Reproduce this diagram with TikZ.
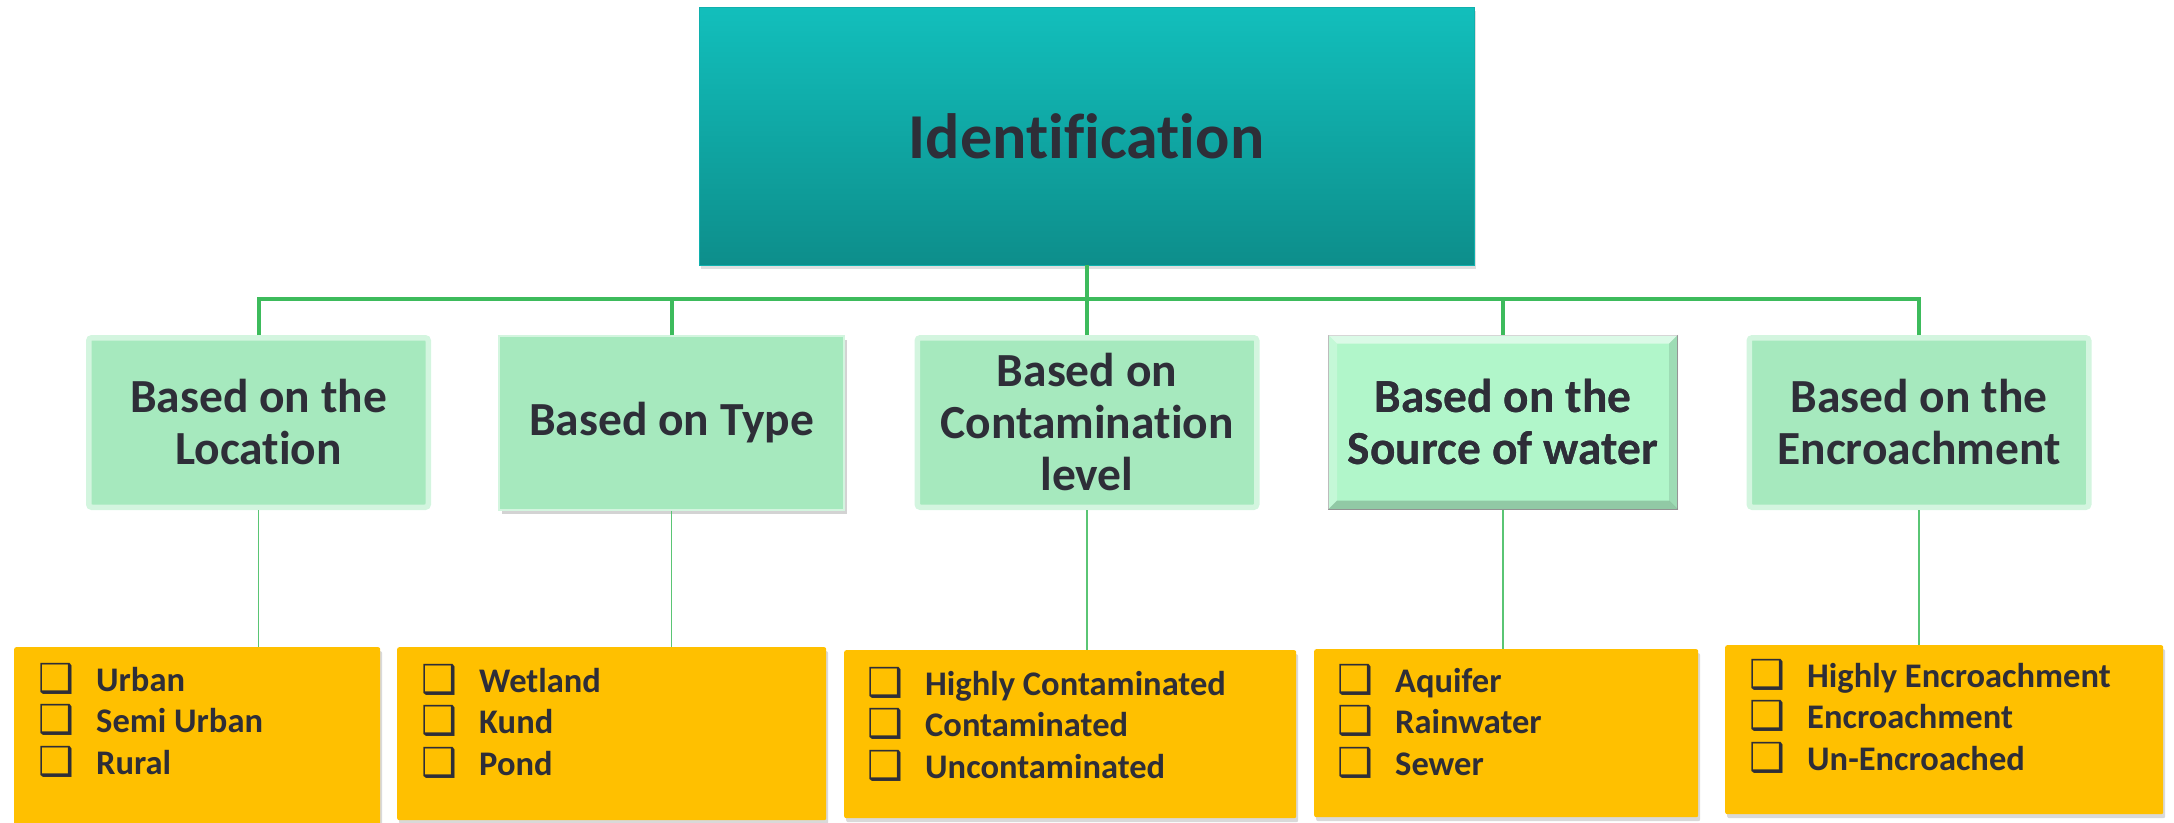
\documentclass[tikz,border=0pt]{standalone}
\usepackage{fontspec}
\setmainfont{Carlito}[Ligatures=NoCommon]
\newfontfamily\dejavu{DejaVu Sans}
\usetikzlibrary{shadows,calc}

\definecolor{tealtop}{HTML}{12BFBC}
\definecolor{tealbot}{HTML}{0D8E8B}
\definecolor{catfill}{HTML}{A6E9BE}
\definecolor{catglow}{HTML}{D3F5DF}
\definecolor{srcfill}{HTML}{B1F6CA}
\definecolor{listfill}{HTML}{FFC000}
\definecolor{ink}{HTML}{2E2E38}
\definecolor{wire}{HTML}{3DBB5C}

% check-box bullet followed by the item text
\newcommand{\chkitem}[1]{\makebox[58pt][l]{\raisebox{-1pt}{\dejavu\fontsize{40}{40}\selectfont ❑}}#1}

\tikzset{
  rootbox/.style={rectangle, minimum width=775pt, minimum height=258pt, inner sep=0pt,
    top color=tealtop, bottom color=tealbot, draw=tealtop!70!tealbot, line width=0.8pt,
    text=ink, font=\fontsize{64}{70}\selectfont\bfseries,
    drop shadow={opacity=0.25, shadow xshift=2pt, shadow yshift=-4pt}},
  catbase/.style={rectangle, inner sep=0pt, text=ink, align=center,
    font=\fontsize{47.5}{52}\selectfont\bfseries},
  catglowbox/.style={catbase, fill=catfill, draw=catglow, line width=5.5pt, rounded corners=3pt,
    minimum width=339.5pt, minimum height=169.5pt},
  catshadowbox/.style={catbase, fill=catfill, draw=catglow, line width=1.5pt,
    minimum width=345pt, minimum height=174pt,
    drop shadow={opacity=0.35, shadow xshift=3pt, shadow yshift=-4pt}},
  catbevelbox/.style={catbase, fill=srcfill, draw=gray!70, line width=1pt,
    minimum width=349pt, minimum height=174pt},
  listbox/.style={rectangle, anchor=north west, inner sep=0pt, fill=listfill, rounded corners=2pt,
    drop shadow={opacity=0.3, shadow xshift=2pt, shadow yshift=-4pt}},
  item/.style={anchor=base west, inner sep=0pt, text=ink, font=\fontsize{34.5}{41}\selectfont\bfseries},
  trunk/.style={draw=wire, line width=4pt},
  twig/.style={draw=wire!85, line width=1.6pt},
}

\begin{document}
\begin{tikzpicture}[x=1pt, y=-1pt]
\useasboundingbox (0,0) rectangle (2174,822);

% root
\node[rootbox] (id) at (1086.5,136) {Identification};

% category boxes
\node[catglowbox]   (c1) at (258.5,422.5)  {Based on the\\Location};
\node[catshadowbox] (c2) at (671.5,423)    {Based on Type};
\node[catglowbox]   (c3) at (1087,422.5)   {Based on\\Contamination\\level};
\node[catbevelbox]  (c4) at (1503,422)     {Based on the\\Source of water};
\node[catglowbox]   (c5) at (1919,422.5)   {Based on the\\Encroachment};

% bevel of the source-of-water box
\fill[white, opacity=0.55] (c4.north west) -- (c4.north east) -- ($(c4.north east)+(-9,9)$) -- ($(c4.north west)+(9,9)$) -- cycle;
\fill[white, opacity=0.25] (c4.north west) -- ($(c4.north west)+(9,9)$) -- ($(c4.south west)+(9,-9)$) -- (c4.south west) -- cycle;
\fill[black, opacity=0.10] (c4.north east) -- (c4.south east) -- ($(c4.south east)+(-9,-9)$) -- ($(c4.north east)+(-9,9)$) -- cycle;
\fill[black, opacity=0.18] (c4.south west) -- (c4.south east) -- ($(c4.south east)+(-9,-9)$) -- ($(c4.south west)+(9,-9)$) -- cycle;
\node[catbase] at (c4.center) {Based on the\\Source of water};

% list boxes
\node[listbox, minimum width=366pt, minimum height=190pt] (l1) at (14,647) {};
\node[listbox, minimum width=429pt, minimum height=173pt] (l2) at (397,647) {};
\node[listbox, minimum width=452pt, minimum height=168pt] (l3) at (844,650) {};
\node[listbox, minimum width=384pt, minimum height=168pt] (l4) at (1314,649) {};
\node[listbox, minimum width=438pt, minimum height=169pt] (l5) at (1725,645) {};

% list items
\node[item] (l1a) at ($(l1.north west)+(24,44)$)    {\chkitem{Urban}};
\node[item] (l1b) at ($(l1.north west)+(24,85.5)$)  {\chkitem{Semi Urban}};
\node[item] (l1c) at ($(l1.north west)+(24,127)$)   {\chkitem{Rural}};
\node[item] (l2a) at ($(l2.north west)+(24,45)$)    {\chkitem{Wetland}};
\node[item] (l2b) at ($(l2.north west)+(24,86.5)$)  {\chkitem{Kund}};
\node[item] (l2c) at ($(l2.north west)+(24,128)$)   {\chkitem{Pond}};
\node[item] (l3a) at ($(l3.north west)+(23,45)$)    {\chkitem{Highly Contaminated}};
\node[item] (l3b) at ($(l3.north west)+(23,86.5)$)  {\chkitem{Contaminated}};
\node[item] (l3c) at ($(l3.north west)+(23,128)$)   {\chkitem{Uncontaminated}};
\node[item] (l4a) at ($(l4.north west)+(23,43)$)    {\chkitem{Aquifer}};
\node[item] (l4b) at ($(l4.north west)+(23,84.5)$)  {\chkitem{Rainwater}};
\node[item] (l4c) at ($(l4.north west)+(23,126)$)   {\chkitem{Sewer}};
\node[item] (l5a) at ($(l5.north west)+(24,42)$)    {\chkitem{Highly Encroachment}};
\node[item] (l5b) at ($(l5.north west)+(24,83.5)$)  {\chkitem{Encroachment}};
\node[item] (l5c) at ($(l5.north west)+(24,125)$)   {\chkitem{Un-Encroached}};

% tree connectors
\coordinate (bus) at (1086.5,299);
\draw[trunk] (id.south) -- (bus);
\foreach \c in {c1,c2,c3,c4,c5} \draw[trunk] (\c.north) |- (bus);
\draw[twig] (c1.south) -- (c1.south |- l1.north);
\draw[twig] (c2.south) -- (c2.south |- l2.north);
\draw[twig] (c3.south) -- (c3.south |- l3.north);
\draw[twig] (c4.south) -- (c4.south |- l4.north);
\draw[twig] (c5.south) -- (c5.south |- l5.north);
\end{tikzpicture}
\end{document}
